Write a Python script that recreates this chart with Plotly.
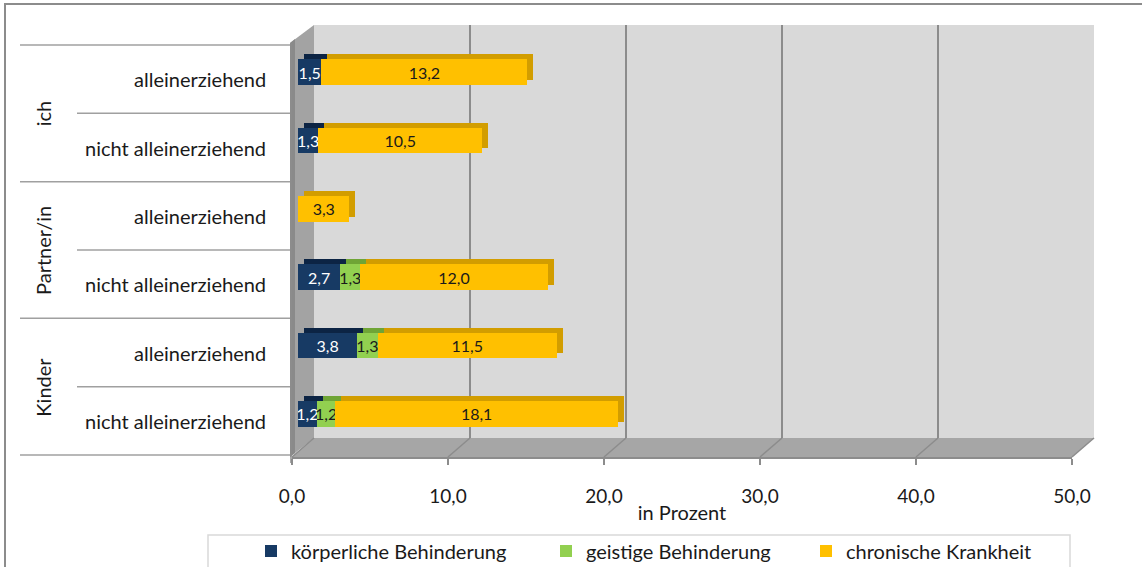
import plotly.graph_objects as go

# ---------------- data ----------------
groups = ["ich", "ich", "Partner/in", "Partner/in", "Kinder", "Kinder"]
subgroups = ["alleinerziehend", "nicht alleinerziehend",
             "alleinerziehend", "nicht alleinerziehend",
             "alleinerziehend", "nicht alleinerziehend"]
koerperlich = [1.5, 1.3, None, 2.7, 3.8, 1.2]
geistig = [None, None, None, 1.3, 1.3, 1.2]
chronisch = [13.2, 10.5, 3.3, 12.0, 11.5, 18.1]
series_names = ["körperliche Behinderung", "geistige Behinderung", "chronische Krankheit"]
x_ticks = [0, 10, 20, 30, 40, 50]
x_title = "in Prozent"

# ---------------- style ----------------
W, H = 1142, 567
FONT = "Lato"
front_colors = ["#173A64", "#92D050", "#FFC000"]
top_colors = ["#0C2444", "#6FA536", "#D29D00"]
text_colors = ["#FFFFFF", "#1A1A1A", "#1A1A1A"]
legend_widths = [250, 215, 215]

ROW_TOP, ROW_BOT = 45, 455
N = len(subgroups)
ROW_H = (ROW_BOT - ROW_TOP) / N
BAR_SHIFT = -7          # bars sit a bit higher than the row centre (3D depth)
DX, DY = 6, 5           # 3D depth offset


def px(x):
    return x / W


def py(y):
    return 1 - y / H


cats = [f"{g} | {s}" for g, s in zip(groups, subgroups)]
series = [koerperlich, geistig, chronisch]

fig = go.Figure()

# dummy traces to create the wall-grid and floor subplots
fig.add_trace(go.Scatter(x=[], y=[], xaxis="x", yaxis="y", showlegend=False, hoverinfo="skip"))
fig.add_trace(go.Scatter(x=[], y=[], xaxis="x2", yaxis="y2", showlegend=False, hoverinfo="skip"))

# depth (top face / end cap) of the 3D bars
for vals, col in zip(series, top_colors):
    fig.add_trace(go.Bar(
        y=cats, x=vals, orientation="h", xaxis="x3", yaxis="y3",
        marker=dict(color=col, line=dict(width=0)),
        showlegend=False, hoverinfo="skip"))

# front faces
for name, vals, col, tcol, lw in zip(series_names, series, front_colors, text_colors, legend_widths):
    fig.add_trace(go.Bar(
        y=cats, x=vals, orientation="h", name=name, xaxis="x4", yaxis="y4",
        marker=dict(color=col, line=dict(width=0)),
        texttemplate="%{x:.1f}", textposition="inside", insidetextanchor="middle",
        textangle=0, constraintext="none",
        textfont=dict(family=FONT, size=16, color=tcol),
        legendwidth=lw))

# ---------------- axes ----------------
hidden_y = dict(showticklabels=False, showgrid=False, zeroline=False, ticks="")
fig.update_layout(
    # back-wall grid
    xaxis=dict(domain=[px(314), px(1094)], range=[0, 50], tickvals=x_ticks,
               showgrid=True, gridcolor="#8C8C8C", gridwidth=1.5,
               showticklabels=False, zeroline=False, ticks="", anchor="y",
               automargin=False),
    yaxis=dict(domain=[py(438), py(25)], range=[0, 1], anchor="x", automargin=False, **hidden_y),
    # floor front (tick labels)
    xaxis2=dict(domain=[px(292), px(1072)], range=[0, 50], tickvals=x_ticks,
                tickformat=".1f", showgrid=False, zeroline=False,
                showline=True, linecolor="#8C8C8C", linewidth=1.5,
                ticks="outside", ticklen=6, tickcolor="#8C8C8C", tickwidth=1.5,
                ticklabelstandoff=15, automargin=False,
                tickfont=dict(family=FONT, size=19, color="#1A1A1A"),
                title=dict(text=x_title, standoff=0,
                           font=dict(family=FONT, size=20, color="#1A1A1A")),
                anchor="y2"),
    yaxis2=dict(domain=[py(457), py(25)], range=[0, 1], anchor="x2", automargin=False, **hidden_y),
    # 3D depth bars
    xaxis3=dict(domain=[px(298 + DX), px(1078 + DX)], range=[0, 50], visible=False,
                anchor="y3", automargin=False),
    yaxis3=dict(domain=[py(ROW_BOT + BAR_SHIFT - DY), py(ROW_TOP + BAR_SHIFT - DY)],
                range=[N - 0.5, -0.5], visible=False, anchor="x3", type="category",
                automargin=False),
    # front bars
    xaxis4=dict(domain=[px(298), px(1078)], range=[0, 50], visible=False, anchor="y4",
                automargin=False),
    yaxis4=dict(domain=[py(ROW_BOT + BAR_SHIFT), py(ROW_TOP + BAR_SHIFT)],
                range=[N - 0.5, -0.5], visible=False, anchor="x4", type="category",
                automargin=False),
)

# ---------------- decoration shapes ----------------
shapes = []


def path(points):
    return "M " + " L ".join(f"{px(x):.5f},{py(y):.5f}" for x, y in points) + " Z"


# outer chart border
shapes.append(dict(type="rect", xref="paper", yref="paper", x0=px(5), x1=px(1160),
                   y0=py(4), y1=py(600), line=dict(color="#8C8C8C", width=2),
                   fillcolor="rgba(0,0,0,0)", layer="below"))
# back wall
shapes.append(dict(type="rect", xref="paper", yref="paper", x0=px(314), x1=px(1094),
                   y0=py(438), y1=py(25), fillcolor="#D9D9D9", line=dict(width=0), layer="below"))
# side wall
shapes.append(dict(type="path", xref="paper", yref="paper",
                   path=path([(290, 43), (314, 25), (314, 438), (290, 457)]),
                   fillcolor="#A3A3A3", line=dict(width=0), layer="below"))
shapes.append(dict(type="path", xref="paper", yref="paper",
                   path=path([(290, 43), (295, 39), (295, 453), (290, 457)]),
                   fillcolor="#8A8A8A", line=dict(width=0), layer="below"))
# floor
shapes.append(dict(type="path", xref="paper", yref="paper",
                   path=path([(292, 457), (1072, 457), (1094, 438), (314, 438)]),
                   fillcolor="#A6A6A6", line=dict(width=0), layer="below"))
# floor grid lines (front tick -> back grid line)
scale_front = (1072 - 292) / (x_ticks[-1] - x_ticks[0])
for t in x_ticks:
    xf = 292 + t * scale_front
    xb = 314 + t * scale_front
    shapes.append(dict(type="line", xref="paper", yref="paper",
                       x0=px(xf), y0=py(457), x1=px(xb), y1=py(438),
                       line=dict(color="#8C8C8C", width=1.5), layer="below"))
# vertical axis line (front edge of side wall)
shapes.append(dict(type="line", xref="paper", yref="paper", x0=px(291), x1=px(291),
                   y0=py(43), y1=py(463), line=dict(color="#8C8C8C", width=1.5), layer="below"))
# category divider lines
for k in range(N + 1):
    y = ROW_TOP + k * ROW_H
    x_start = 20 if k % 2 == 0 else 77
    shapes.append(dict(type="line", xref="paper", yref="paper", x0=px(x_start), x1=px(290),
                       y0=py(y), y1=py(y), line=dict(color="#A0A0A0", width=1.5), layer="below"))
# legend frame
shapes.append(dict(type="rect", xref="paper", yref="paper", x0=px(208), x1=px(1070),
                   y0=py(535), y1=py(600), line=dict(color="#D9D9D9", width=1.5),
                   fillcolor="#FFFFFF", layer="below"))

# ---------------- category labels ----------------
annotations = []
for i, s in enumerate(subgroups):
    annotations.append(dict(text=s, xref="paper", yref="paper", x=px(268),
                            y=py(ROW_TOP + (i + 0.5) * ROW_H), xanchor="right",
                            yanchor="middle", showarrow=False,
                            font=dict(family=FONT, size=20, color="#1A1A1A")))
seen = []
for g in groups:
    if g not in seen:
        seen.append(g)
for j, g in enumerate(seen):
    idx = [i for i, gg in enumerate(groups) if gg == g]
    yc = ROW_TOP + (idx[0] + idx[-1] + 1) / 2 * ROW_H
    annotations.append(dict(text=g, xref="paper", yref="paper", x=px(43), y=py(yc),
                            textangle=-90, xanchor="center", yanchor="middle",
                            showarrow=False,
                            font=dict(family=FONT, size=20, color="#1A1A1A")))

fig.update_layout(
    template="none",
    width=W, height=H, autosize=False,
    margin=dict(l=0, r=0, t=0, b=0, pad=0, autoexpand=False),
    paper_bgcolor="#FFFFFF", plot_bgcolor="rgba(0,0,0,0)",
    barmode="stack", bargap=0.62,
    separators=",.",
    font=dict(family=FONT, size=19, color="#1A1A1A"),
    shapes=shapes, annotations=annotations,
    showlegend=True,
    legend=dict(orientation="h", x=px(251), xanchor="left", y=py(551), yanchor="middle",
                bgcolor="rgba(0,0,0,0)", borderwidth=0,
                font=dict(family=FONT, size=20, color="#1A1A1A"),
                traceorder="normal"),
)

fig.write_html("out.html", config={"displayModeBar": False},
               post_script="document.body.style.margin='0';document.body.style.overflow='hidden';")
